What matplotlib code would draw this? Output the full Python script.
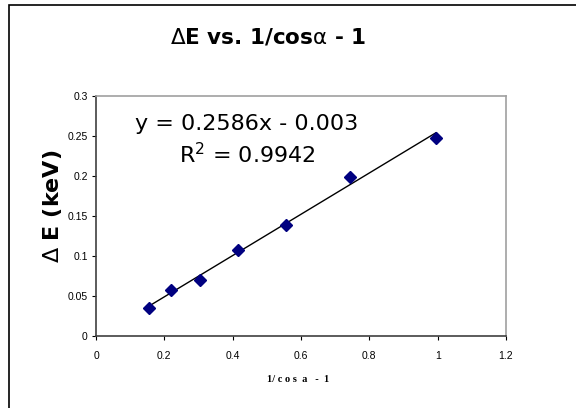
import numpy as np
import matplotlib.pyplot as plt
from matplotlib.patches import Rectangle

# data
x_vals = [0.1547, 0.2208, 0.3054, 0.4142, 0.5557, 0.7434, 0.9950]
dE_vals = [0.035, 0.058, 0.070, 0.107, 0.139, 0.199, 0.248]
x_ticks = [0, 0.2, 0.4, 0.6, 0.8, 1, 1.2]
x_tick_labels = ["0", "0.2", "0.4", "0.6", "0.8", "1", "1.2"]
y_ticks = [0, 0.05, 0.1, 0.15, 0.2, 0.25, 0.3]
y_tick_labels = ["0", "0.05", "0.1", "0.15", "0.2", "0.25", "0.3"]

fig = plt.figure(figsize=(5.76, 4.08), dpi=100)
ax = fig.add_axes([96 / 576, 1 - 336 / 408, 410 / 576, 240 / 408])

# outer chart frame (runs off right and bottom edge)
fig.patches.append(Rectangle((9 / 576, -0.05), 1.0, 1 - 5 / 408 + 0.05,
                             transform=fig.transFigure, fill=False,
                             edgecolor="black", linewidth=1.2))

# linear trendline over the data range
slope, intercept = np.polyfit(x_vals, dE_vals, 1)
xx = np.array([min(x_vals), max(x_vals)])
ax.plot(xx, slope * xx + intercept, color="black", linewidth=1)
ax.plot(x_vals, dE_vals, linestyle="none", marker="D", markersize=6.5,
        color="#000080", markeredgecolor="#000080")

ax.set_xlim(0, 1.2)
ax.set_ylim(0, 0.3)
ax.set_xticks(x_ticks)
ax.set_xticklabels(x_tick_labels, fontsize=7.5, family="Liberation Sans")
ax.set_yticks(y_ticks)
ax.set_yticklabels(y_tick_labels, fontsize=7.5, family="Liberation Sans")
ax.tick_params(direction="out", length=3, width=0.8, pad=8)
ax.tick_params(axis="y", pad=3)

for side in ["top", "right"]:
    ax.spines[side].set_color("#a0a0a0")
    ax.spines[side].set_linewidth(1.2)
for side in ["left", "bottom"]:
    ax.spines[side].set_color("#404040")
    ax.spines[side].set_linewidth(1.2)

# greek letters in mathtext so they come out thin like the original symbol font
fig.text(268 / 576, 1 - 37 / 408, r"$\Delta$E vs. 1/cos$\mathrm{\alpha}$ - 1", ha="center",
         va="center", fontsize=15.5, fontweight="bold", family="DejaVu Sans")
fig.text(53 / 576, 1 - 206 / 408, r"$\Delta$ E (keV)", ha="center", va="center", rotation=90,
         fontsize=16, fontweight="bold", family="DejaVu Sans")
fig.text(298 / 576, 1 - 379 / 408, "1/ c o s  a   -  1", ha="center", va="center",
         fontsize=7.5, fontweight="bold", family="Liberation Serif")

ax.text(247 / 576, 1 - 124 / 408, "y = 0.2586x - 0.003", transform=fig.transFigure,
        ha="center", va="center", fontsize=16, family="DejaVu Sans")
ax.text(247 / 576, 1 - 155 / 408, "R$^2$ = 0.9942", transform=fig.transFigure,
        ha="center", va="center", fontsize=16, family="DejaVu Sans")

fig.savefig("out.png", dpi=100)
